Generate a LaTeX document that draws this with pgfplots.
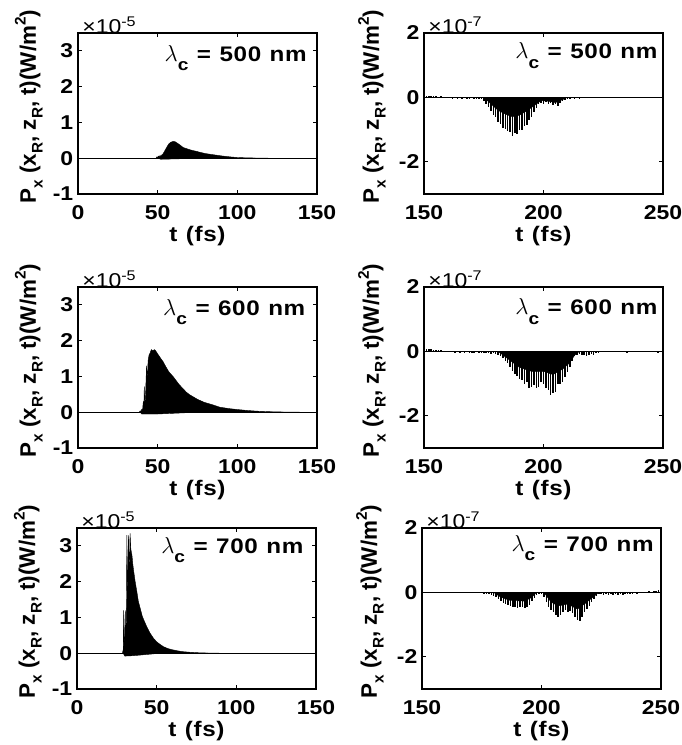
\documentclass[border=0pt]{standalone}
\usepackage{pgfplots}
\pgfplotsset{compat=1.18}
\usepackage{fontspec}
\setmainfont{Liberation Sans}[FakeStretch=1.15]
\newfontfamily\ylfont{Liberation Sans}
\newfontfamily\wfont{Liberation Sans}[FakeStretch=1.15, LetterSpace=3, WordSpace=1.15]
\newcommand\tf{\fontsize{15}{17}\selectfont\bfseries}
\newcommand\wf{\wfont\fontsize{15.8}{17}\selectfont\bfseries}
\newcommand\ef{\fontsize{15}{16}\selectfont}
\newcommand\sbx[1]{\raisebox{-0.3em}{\fontsize{11.5}{11.5}\selectfont #1}}
\newcommand\spx[1]{\raisebox{0.45em}{\fontsize{11.5}{11.5}\selectfont #1}}
\newcommand\ylab{{\ylfont\fontsize{16.8}{18}\selectfont\bfseries P\sbx{x} (x\sbx{R}, z\sbx{R}, t)(W/m\spx{2})}}
\newcommand\lam[1]{{\fontsize{17.5}{17}\selectfont$\lambda$}\raisebox{-0.45em}{\fontsize{12.5}{12}\selectfont\bfseries c} = #1 nm}
\pgfplotsset{
  pane/.style={
    scale only axis, width=179.25pt, height=120.75pt, anchor=south west,
    axis line style={line width=0.8pt},
    every tick/.style={black, line width=0.6pt},
    tick align=inside, major tick length=3pt,
    ticklabel style={font=\tf}, /pgf/number format/assume math mode=true,
    xticklabel style={anchor=center, yshift=-14pt},
    xlabel={t (fs)}, xlabel style={font=\wf, at={(axis description cs:0.5,-0.262)}, anchor=center},
    ylabel=\ylab,
    clip=false, scaled ticks=false,
  },
  lpane/.style={pane, xmin=0, xmax=150, ymin=-1, ymax=3.5, xtick={0,50,100,150}, ytick={-1,0,1,2,3},
    ylabel style={at={(axis description cs:-0.206,0.543)}, anchor=center}},
  rpane/.style={pane, xmin=150, xmax=250, ymin=-3, ymax=2, xtick={150,200,250}, ytick={-2,0,2},
    ylabel style={at={(axis description cs:-0.218,0.543)}, anchor=center}},
  comb/.style={ycomb, black, line width=1.15pt, mark=none},
  area/.style={fill=black, draw=black, line width=0.3pt, mark=none},
}
\begin{document}
\begin{tikzpicture}
\useasboundingbox (0,0) rectangle (510.75pt,558.75pt);
% ---------- row 1 left: 500 nm
\begin{axis}[lpane, at={(58.5pt,413.25pt)}]
\addplot[black, line width=0.5pt] coordinates {(0,0)(150,0)};
\addplot[area] coordinates {(49,0)(49.5,0.04)(50,0.02)(50.5,0.06)(51,0.03)(51.5,0.08)(52,0.04)(52.5,0.09)(53,0.1)(54,0.17)(55,0.25)(56,0.33)(57,0.4)(58,0.44)(59,0.46)(60,0.47)(61,0.46)(62,0.43)(63,0.4)(64,0.37)(66,0.3)(68,0.27)(70,0.24)(72,0.215)(74.5,0.19)(77,0.16)(80,0.13)(83,0.11)(86,0.09)(90,0.065)(93,0.05)(96,0.035)(100,0.02)(105,0.012)(110,0.007)(115,0.003)(120,0)} \closedcycle;
\addplot[area] coordinates {(50,0)(52,-0.03)(60,-0.02)(70,-0.01)(80,0)} \closedcycle;
\node[anchor=west, inner sep=0pt, font=\ef] at (rel axis cs:0.017,1.05) {×10\textsuperscript{-5}};
\node[anchor=north east, inner sep=0pt, font=\wf] at (rel axis cs:0.958,0.925) {\lam{500}};
\end{axis}
% ---------- row 1 right: 500 nm
\begin{axis}[rpane, at={(318pt,413.25pt)}]
\addplot[black, line width=0.5pt] coordinates {(150,0)(250,0)};
\addplot[area] coordinates {(175,0)(178,-0.2)(181,-0.4)(184,-0.52)(187,-0.6)(190,-0.55)(193,-0.42)(196,-0.26)(199,-0.1)(202,-0.12)(205,-0.16)(208,-0.07)(210,0)} \closedcycle;
\addplot[comb] coordinates {(150,0.06)(151,0.05)(152,0.04)(153,0.05)(154,0.03)(155,0.04)(156,-0.02)(157,0.03)(158,-0.03)(159,0.02)(160,-0.03)(161,-0.02)(162,-0.04)(163,-0.02)(164,-0.04)(165,-0.03)(166,-0.04)(167,-0.02)(168,-0.04)(169,-0.05)(170,-0.03)(171,-0.05)(172,-0.04)(173,-0.06)(174,-0.05)(175,-0.1)(176,-0.2)(177,-0.3)(178,-0.42)(179,-0.55)(180,-0.62)(181,-0.75)(182,-0.82)(183,-0.95)(184,-0.98)(185,-1.05)(186,-1.08)(187,-1.2)(188,-1.1)(189,-1.15)(190,-1.0)(191,-1.02)(192,-0.88)(193,-0.85)(194,-0.7)(195,-0.6)(196,-0.45)(197,-0.32)(198,-0.22)(199,-0.18)(200,-0.2)(201,-0.14)(202,-0.2)(203,-0.16)(204,-0.25)(205,-0.22)(206,-0.26)(207,-0.18)(208,-0.12)(209,-0.08)(210,-0.06)(211,-0.05)(212,-0.03)(213,-0.05)(214,-0.03)(215,-0.04)(216,-0.02)(217,-0.03)(218,-0.02)(219,-0.03)(220,-0.02)(222,-0.03)(224,-0.02)(226,-0.02)(228,-0.01)(230,-0.02)(232,-0.01)(235,-0.01)(240,-0.01)(245,-0.01)};
\node[anchor=west, inner sep=0pt, font=\ef] at (rel axis cs:0.017,1.05) {×10\textsuperscript{-7}};
\node[anchor=north east, inner sep=0pt, font=\wf] at (rel axis cs:0.978,0.94) {\lam{500}};
\end{axis}
% ---------- row 2 left: 600 nm
\begin{axis}[lpane, at={(58.5pt,222.75pt)}]
\addplot[black, line width=0.5pt] coordinates {(0,0)(150,0)};
\addplot[area] coordinates {(38.5,0)(39,0.04)(39.5,0.02)(40,0.08)(40.5,0.05)(41,0.3)(41.3,0.1)(41.6,0.72)(42,0.15)(42.5,0.6)(43,1.3)(43.5,0.9)(44,1.45)(44.6,1.6)(45.2,1.65)(46,1.75)(47,1.72)(48,1.75)(49,1.7)(50,1.63)(52,1.5)(53.6,1.4)(55,1.28)(57,1.13)(60,0.98)(63,0.8)(65,0.7)(68,0.56)(70,0.49)(75,0.36)(79,0.28)(85,0.2)(89,0.14)(95,0.1)(100,0.075)(106,0.05)(112,0.03)(120,0.015)(130,0.005)(140,0)} \closedcycle;
\addplot[area] coordinates {(39,0)(40,-0.05)(50,-0.05)(60,-0.03)(70,-0.01)(80,0)} \closedcycle;
\node[anchor=west, inner sep=0pt, font=\ef] at (rel axis cs:0.017,1.05) {×10\textsuperscript{-5}};
\node[anchor=north east, inner sep=0pt, font=\wf] at (rel axis cs:0.952,0.925) {\lam{600}};
\end{axis}
% ---------- row 2 right: 600 nm
\begin{axis}[rpane, at={(318pt,222.75pt)}]
\addplot[black, line width=0.5pt] coordinates {(150,0)(250,0)};
\addplot[area] coordinates {(181,0)(186,-0.28)(190,-0.5)(195,-0.62)(200,-0.62)(204,-0.72)(208,-0.55)(211,-0.35)(213,-0.12)(215,0)} \closedcycle;
\addplot[comb] coordinates {(150,0.08)(151,0.07)(152,0.07)(153,0.06)(154,0.05)(155,0.05)(156,0.04)(157,0.03)(158,0.02)(159,-0.02)(160,0.02)(161,-0.03)(162,-0.02)(163,-0.04)(164,-0.02)(165,-0.05)(166,-0.03)(167,-0.05)(168,-0.03)(169,-0.05)(170,-0.04)(171,-0.06)(172,-0.03)(173,-0.05)(174,-0.04)(175,-0.06)(176,-0.04)(177,-0.05)(178,-0.07)(179,-0.06)(180,-0.08)(181,-0.1)(182,-0.15)(183,-0.2)(184,-0.3)(185,-0.35)(186,-0.5)(187,-0.6)(188,-0.7)(189,-0.75)(190,-0.85)(191,-0.9)(192,-1.0)(193,-0.95)(194,-1.15)(195,-1.1)(196,-1.05)(197,-1.15)(198,-1.1)(199,-0.95)(200,-1.0)(201,-1.15)(202,-1.2)(203,-1.35)(204,-1.3)(205,-1.25)(206,-1.0)(207,-1.0)(208,-0.95)(209,-0.8)(210,-0.65)(211,-0.5)(212,-0.3)(213,-0.15)(214,-0.1)(215,-0.08)(216,-0.12)(217,-0.1)(218,-0.14)(219,-0.1)(220,-0.08)(221,-0.1)(222,-0.06)(223,-0.04)(225,-0.03)(227,-0.02)(230,-0.02)(233,-0.02)(235,-0.05)(237,-0.02)(240,-0.02)(243,-0.02)(246,-0.03)(248,-0.04)(249,-0.02)};
\node[anchor=west, inner sep=0pt, font=\ef] at (rel axis cs:0.017,1.05) {×10\textsuperscript{-7}};
\node[anchor=north east, inner sep=0pt, font=\wf] at (rel axis cs:0.978,0.93) {\lam{600}};
\end{axis}
% ---------- row 3 left: 700 nm
\begin{axis}[lpane, at={(57.75pt,42pt)}]
\addplot[black, line width=0.5pt] coordinates {(0,0)(150,0)};
\addplot[area] coordinates {(28.5,0)(29,0.1)(29.3,1.2)(29.6,0.2)(30,0.5)(30.3,1.2)(30.6,0.3)(31,1.0)(31.3,3.3)(31.8,1.5)(32.3,3.3)(32.8,2.2)(33.3,3.35)(33.8,2.9)(34.5,2.74)(35,2.5)(35.5,2.32)(36.5,2.0)(37.6,1.71)(38.5,1.45)(39.7,1.25)(41,1.03)(42.5,0.87)(43.9,0.73)(46,0.55)(48.1,0.41)(50,0.32)(52,0.25)(54.4,0.18)(57,0.13)(60,0.095)(62.8,0.07)(66,0.045)(70,0.03)(77.5,0.01)(85,0.004)(90,0)} \closedcycle;
\addplot[area] coordinates {(29,0)(30,-0.08)(35,-0.07)(40,-0.05)(45,-0.03)(50,-0.01)(55,0)} \closedcycle;
\node[anchor=west, inner sep=0pt, font=\ef] at (rel axis cs:0.017,1.05) {×10\textsuperscript{-5}};
\node[anchor=north east, inner sep=0pt, font=\wf] at (rel axis cs:0.948,0.944) {\lam{700}};
\end{axis}
% ---------- row 3 right: 700 nm
\begin{axis}[rpane, at={(316.5pt,42pt)}]
\addplot[black, line width=0.5pt] coordinates {(150,0)(250,0)};
\addplot[area] coordinates {(180,0)(183,-0.15)(187,-0.25)(193,-0.27)(196,-0.15)(198,0)} \closedcycle;
\addplot[area] coordinates {(201,0)(204,-0.3)(207,-0.42)(211,-0.36)(215,-0.52)(218,-0.36)(222,-0.12)(224,0)} \closedcycle;
\addplot[comb] coordinates {(174,-0.02)(175,-0.03)(176,-0.04)(177,-0.05)(178,-0.06)(179,-0.07)(180,-0.1)(181,-0.15)(182,-0.22)(183,-0.28)(184,-0.33)(185,-0.36)(186,-0.4)(187,-0.42)(188,-0.45)(189,-0.45)(190,-0.47)(191,-0.44)(192,-0.46)(193,-0.48)(194,-0.45)(195,-0.38)(196,-0.28)(197,-0.17)(198,-0.07)(199,-0.04)(200,-0.06)(201,-0.15)(202,-0.3)(203,-0.45)(204,-0.55)(205,-0.62)(206,-0.7)(207,-0.75)(208,-0.7)(209,-0.6)(210,-0.55)(211,-0.6)(212,-0.58)(213,-0.65)(214,-0.75)(215,-0.85)(216,-0.9)(217,-0.75)(218,-0.6)(219,-0.5)(220,-0.42)(221,-0.3)(222,-0.2)(223,-0.1)(224,-0.05)(225,-0.06)(226,-0.07)(227,-0.05)(228,-0.07)(229,-0.06)(230,-0.08)(231,-0.05)(232,-0.07)(233,-0.06)(234,-0.08)(235,-0.05)(236,-0.06)(237,-0.04)(238,-0.06)(239,-0.03)(240,-0.04)(241,-0.02)(242,-0.03)(243,0.02)(244,-0.02)(245,0.03)(246,0.02)(247,0.04)(248,0.05)(249,0.08)(250,0.06)};
\node[anchor=west, inner sep=0pt, font=\ef] at (rel axis cs:0.017,1.05) {×10\textsuperscript{-7}};
\node[anchor=north east, inner sep=0pt, font=\wf] at (rel axis cs:0.97,0.957) {\lam{700}};
\end{axis}
\end{tikzpicture}
\end{document}
